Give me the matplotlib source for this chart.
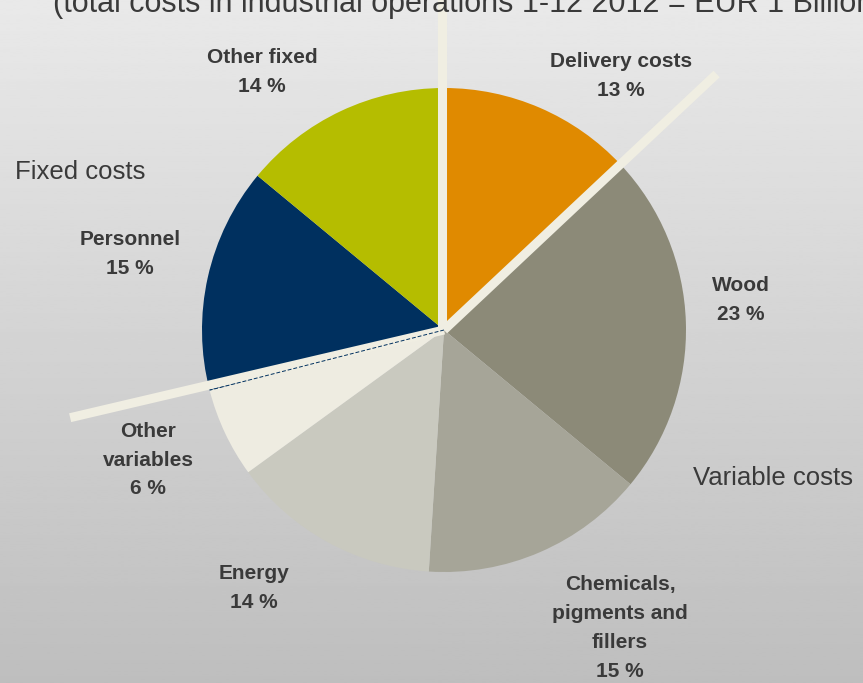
import numpy as np
import matplotlib.pyplot as plt

plt.rcParams['font.family'] = ['Liberation Sans', 'DejaVu Sans']

# cost structure, clockwise from 12 o'clock
nazwy = ["Delivery costs", "Wood", "Chemicals,\npigments and\nfillers", "Energy",
         "Other\nvariables", "Personnel", "Other fixed"]
udzialy = [13, 23, 15, 14, 6, 15, 14]
kolory = ["#E08A00", "#8C8A78", "#A6A598", "#C9C9BF", "#EEECE1", "#00305F", "#B5BD00"]

tytul = "(total costs in industrial operations 1-12 2012 = EUR 1 Billion)"
grupy = ["Fixed costs", "Variable costs"]

# layout in pixels (y from the top of the picture)
W, H = 863, 683
srodek = (444, H - 330)
promien = 242
pozycje = [(621, 76), (741, 300), (620, 628), (254, 588), (148, 460), (130, 254), (262, 72)]

fig = plt.figure(figsize=(W / 100, H / 100), dpi=100)
ax = fig.add_axes([0, 0, 1, 1])

# grey gradient in the background
grad = np.linspace(233, 190, 256).reshape(-1, 1) / 255.0
ax.imshow(grad, extent=[0, W, 0, H], aspect='auto', cmap='gray', vmin=0, vmax=1, zorder=0)

ax.pie(udzialy, colors=kolory, startangle=90, counterclock=False,
       center=srodek, radius=promien, wedgeprops=dict(linewidth=0, zorder=2))

# cream separators between fixed and variable costs
katy = 90 - 360 * np.cumsum(udzialy) / 100.0
kat_fix = np.deg2rad(katy[-1])
kat_dv = np.deg2rad(katy[0])
kat_op = np.deg2rad(katy[4])
sep = dict(color="#F0EEE2", lw=6.5, solid_capstyle='butt', zorder=4)
ax.plot([srodek[0] - 2, srodek[0] - 2 + 700 * np.cos(kat_fix)],
        [srodek[1], srodek[1] + 700 * np.sin(kat_fix)], **sep)
ax.plot([srodek[0], srodek[0] + 374 * np.cos(kat_dv)],
        [srodek[1], srodek[1] + 374 * np.sin(kat_dv)], **sep)
ax.plot([srodek[0], srodek[0] + 384 * np.cos(kat_op - np.deg2rad(1.2))],
        [srodek[1], srodek[1] + 384 * np.sin(kat_op - np.deg2rad(1.2))], **sep)
ax.plot([srodek[0], srodek[0] + promien * np.cos(kat_op)],
        [srodek[1], srodek[1] + promien * np.sin(kat_op)],
        color="#00305F", lw=0.7, ls=(0, (4, 2)), zorder=5)

kolor_tekstu = "#3A3A3A"
for nazwa, u, (px, py) in zip(nazwy, udzialy, pozycje):
    ax.text(px, H - py, f"{nazwa}\n{u} %", ha='center', va='center',
            fontsize=15, fontweight='bold', color=kolor_tekstu, linespacing=1.65, zorder=6)

ax.text(15, H - 172, grupy[0], ha='left', va='center', fontsize=18.5, color=kolor_tekstu, zorder=6)
ax.text(693, H - 478, grupy[1], ha='left', va='center', fontsize=18.5, color=kolor_tekstu, zorder=6)
# heading sits partly above the top edge
ax.text(53, H - 12, tytul, ha='left', va='baseline', fontsize=22, color=kolor_tekstu, zorder=6)

ax.set_xlim(0, W)
ax.set_ylim(0, H)
ax.set_aspect('auto')
ax.axis('off')

fig.savefig("out.png", dpi=100)
